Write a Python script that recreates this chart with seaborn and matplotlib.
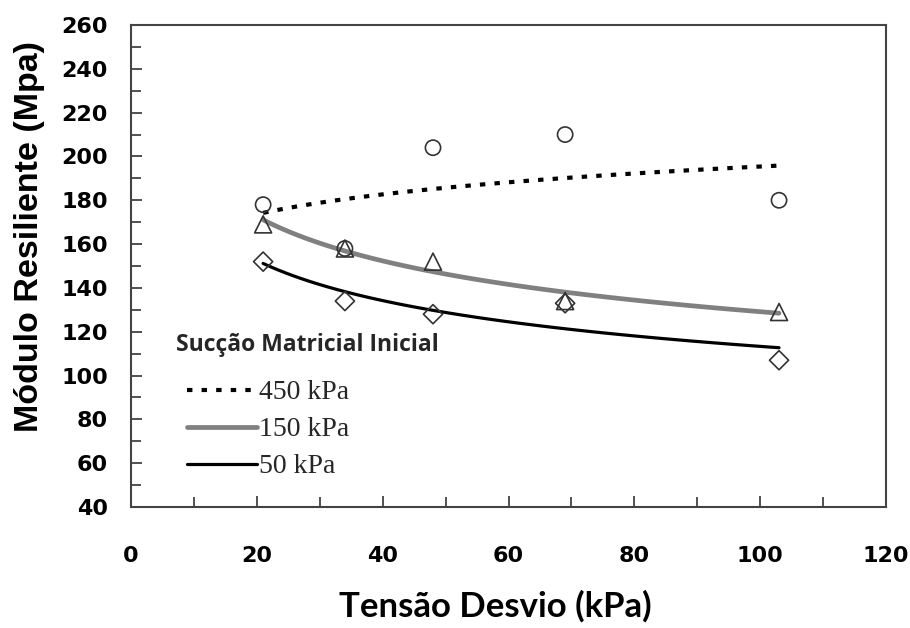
import numpy as np
import pandas as pd
import matplotlib
matplotlib.use("Agg")
import matplotlib.pyplot as plt
from matplotlib.lines import Line2D
from matplotlib.ticker import MultipleLocator
import seaborn as sns

# ---- data ----
tensao = [21, 34, 48, 69, 103]                 # Tensão Desvio (kPa)
mr_450 = [178, 158, 204, 210, 180]             # Sucção 450 kPa (circles)
mr_150 = [169, 158, 152, 134, 129]             # Sucção 150 kPa (triangles)
mr_50 = [152, 134, 128, 133, 107]              # Sucção 50 kPa (diamonds)
series_labels = ["450 kPa", "150 kPa", "50 kPa"]
legend_title = "Sucção Matricial Inicial"
x_ticks = [0, 20, 40, 60, 80, 100, 120]
y_ticks = [40, 60, 80, 100, 120, 140, 160, 180, 200, 220, 240, 260]

sns.set_theme(style="white")
plt.rcParams["font.family"] = ["DejaVu Sans"]

W, H = 910, 628
L, R, T, B = 131, 886, 25, 507
fig = plt.figure(figsize=(W / 100, H / 100), dpi=100)
ax = fig.add_axes([L / W, 1 - B / H, (R - L) / W, (B - T) / H])

df = pd.DataFrame({
    "x": tensao * 3,
    "y": mr_450 + mr_150 + mr_50,
    "s": [series_labels[0]] * 5 + [series_labels[1]] * 5 + [series_labels[2]] * 5,
})

markers = {series_labels[0]: "o", series_labels[1]: "^", series_labels[2]: "D"}
sizes = {series_labels[0]: 120, series_labels[1]: 150, series_labels[2]: 95}
for lab in series_labels:
    sub = df[df.s == lab]
    sns.scatterplot(data=sub, x="x", y="y", ax=ax, marker=markers[lab],
                    s=sizes[lab], facecolor="none", edgecolor="#333333",
                    linewidth=1.2, legend=False, zorder=3)

# power-law trend lines (fitted to the data, as in the original)
line_styles = {
    series_labels[0]: dict(color="black", lw=3, ls=(0, (1.3, 2.2))),
    series_labels[1]: dict(color="#808080", lw=3.4, ls="-"),
    series_labels[2]: dict(color="black", lw=2.3, ls="-"),
}
xs = np.linspace(min(tensao), max(tensao), 100)
for lab, vals in zip(series_labels, [mr_450, mr_150, mr_50]):
    b, a = np.polyfit(np.log(tensao), np.log(vals), 1)
    fit = pd.DataFrame({"x": xs, "y": np.exp(a) * xs ** b})
    sns.lineplot(data=fit, x="x", y="y", ax=ax, legend=False, zorder=2,
                 **line_styles[lab])

ax.set_xlim(0, 120)
ax.set_ylim(40, 260)
ax.set_xticks(x_ticks)
ax.set_yticks(y_ticks)
ax.xaxis.set_minor_locator(MultipleLocator(10))
ax.yaxis.set_minor_locator(MultipleLocator(10))
ax.tick_params(axis="both", which="both", direction="in", color="#333333",
               width=1.2, bottom=True, left=True)
ax.tick_params(axis="both", which="major", length=8)
ax.tick_params(axis="both", which="minor", length=7)
ax.tick_params(axis="x", which="major", pad=28)
ax.tick_params(axis="y", which="major", pad=16.5)
for lab in ax.get_xticklabels() + ax.get_yticklabels():
    lab.set_fontweight("bold")
    lab.set_fontsize(16)
    lab.set_color("black")
for sp in ax.spines.values():
    sp.set_color("#444444")
    sp.set_linewidth(1.5)

ax.set_xlabel("Tensão Desvio (kPa)", fontsize=25, fontweight="bold",
              family=["Lato", "DejaVu Sans"], color="black")
ax.set_ylabel("Módulo Resiliente (Mpa)", fontsize=24.5, fontweight="bold",
              family=["Liberation Sans", "DejaVu Sans"], color="black")
ax.xaxis.set_label_coords(((343 + 647) / 2 - L) / (R - L), -(590 - B) / (B - T))
ax.yaxis.set_label_coords((45 - L) / (R - L), (B - 237) / (B - T))

handles = [Line2D([0], [0], **line_styles[l]) for l in series_labels]
leg = ax.legend(handles, series_labels, title=legend_title,
                loc="upper left", bbox_to_anchor=(176 / W, 1 - 333 / H),
                bbox_transform=fig.transFigure, borderpad=0, borderaxespad=0,
                frameon=False, handlelength=2.5, handletextpad=0.1,
                labelspacing=0.42, alignment="left",
                prop={"family": ["Liberation Serif"], "size": 20})
leg.get_title().set_fontfamily(["Open Sans", "DejaVu Sans"])
leg.get_title().set_fontweight("bold")
leg.get_title().set_fontsize(16.5)
# indent the entries under the title, as in the original
leg._legend_handle_box.pad = 8

fig.savefig("out.png", dpi=100)
